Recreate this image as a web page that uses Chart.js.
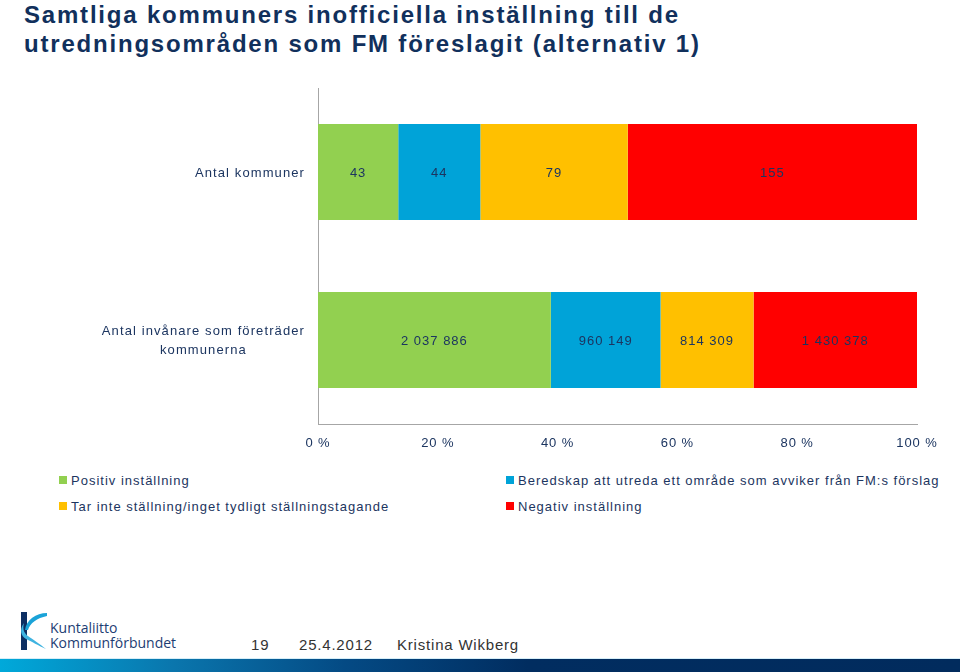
<!DOCTYPE html>
<html>
<head>
<meta charset="utf-8">
<script src="https://cdn.jsdelivr.net/npm/chart.js@4/dist/chart.umd.min.js"></script>
<style>
  html, body { margin: 0; padding: 0; background: #ffffff; }
  body { width: 960px; height: 672px; position: relative; overflow: hidden; font-family: "Liberation Sans", Arial, sans-serif; }
  #title { position: absolute; left: 24px; top: 0px; margin: 0; font-size: 24px; line-height: 29px; font-weight: bold; color: #11305c; letter-spacing: 1.8px; }
  #chartBox { position: absolute; left: 0; top: 80px; width: 960px; height: 380px; }
  .leg { position: absolute; font-size: 13px; color: #1c3560; letter-spacing: 1.0px; white-space: nowrap; height: 16px; line-height: 16px; }
  .leg span.sw { display: inline-block; width: 8px; height: 8px; margin-right: 4px; vertical-align: 1px; }
  .foot { position: absolute; top: 636px; font-size: 15px; color: #333; letter-spacing: 0.8px; white-space: nowrap; }
  #bar { position: absolute; left: 0; top: 658px; width: 960px; height: 14px; border-top: 1px solid #d6eef8;
         background: linear-gradient(to right, #00a9da 0%, #0a76ad 18%, #044a84 36%, #012d60 55%, #012b5d 100%); }
  #logoText { position: absolute; left: 50px; top: 620px; font-size: 14px; line-height: 15px; color: #1d3d73; letter-spacing: 0px; font-family: "Open Sans", "Liberation Sans", sans-serif; }
</style>
</head>
<body>
<div id="title">Samtliga kommuners inofficiella inställning till de<br>utredningsområden som FM föreslagit (alternativ 1)</div>
<div id="chartBox"><canvas id="c"></canvas></div>
<div id="legend"></div>
<svg style="position:absolute;left:14px;top:608px" width="36" height="46" viewBox="0 0 36 46">
  <rect x="7" y="4" width="6" height="38" fill="#0d2f63"/>
  <path d="M33 5 C22 5 12 12 11 22 L14 22 C16 15 23 10 33 8 Z" fill="#1aa3d8"/>
  <path d="M10 15 C8 22 11 26 14 28 C18 31 26 36 32 41 C25 38 17 33 12 31 C7 28 5 22 10 15 Z" fill="#3fb3e0"/>
</svg>
<div id="logoText">Kuntaliitto<br>Kommunförbundet</div>
<div class="foot" style="left:251px">19</div>
<div class="foot" style="left:299px">25.4.2012</div>
<div class="foot" style="left:397px">Kristina Wikberg</div>
<div id="bar"></div>
<script>
// ---- data ----
const categories = ['Antal kommuner', ['Antal invånare som företräder', 'kommunerna']];
const seriesNames = [
  'Positiv inställning',
  'Beredskap att utreda ett område som avviker från FM:s förslag',
  'Tar inte ställning/inget tydligt ställningstagande',
  'Negativ inställning'
];
const positiv = [43, 2037886];
const beredskap = [44, 960149];
const tarInte = [79, 814309];
const negativ = [155, 1430378];
const xTickValues = [0, 20, 40, 60, 80, 100];

const seriesValues = [positiv, beredskap, tarInte, negativ];
const colors = ['#92d050', '#00a3d8', '#ffc000', '#ff0000'];
const textColor = '#1c3560';

const totals = categories.map((_, i) => seriesValues.reduce((s, arr) => s + arr[i], 0));
const fmt = v => String(v).replace(/\B(?=(\d{3})+(?!\d))/g, ' ');

const datasets = seriesValues.map((arr, k) => ({
  label: seriesNames[k],
  raw: arr,
  data: arr.map((v, i) => v / totals[i] * 100),
  backgroundColor: colors[k],
  borderWidth: 0,
  categoryPercentage: 1.0,
  barPercentage: 0.571
}));

// legend (HTML, two columns)
const legPos = [[59, 473], [506, 473], [59, 499], [506, 499]];
const legEl = document.getElementById('legend');
seriesNames.forEach((name, k) => {
  const d = document.createElement('div');
  d.className = 'leg';
  d.style.left = legPos[k][0] + 'px';
  d.style.top = legPos[k][1] + 'px';
  d.innerHTML = '<span class="sw" style="background:' + colors[k] + '"></span>' + name;
  legEl.appendChild(d);
});

const spacingPlugin = {
  id: 'spacing',
  beforeDraw(chart) { chart.ctx.letterSpacing = '0.9px'; }
};

const labelPlugin = {
  id: 'labels',
  afterDraw(chart) {
    const ctx = chart.ctx;
    ctx.save();
    ctx.letterSpacing = '1px';
    ctx.font = '13px "Liberation Sans", Arial, sans-serif';
    ctx.fillStyle = textColor;
    ctx.textBaseline = 'middle';
    ctx.textAlign = 'center';
    chart.data.datasets.forEach((ds, k) => {
      const meta = chart.getDatasetMeta(k);
      meta.data.forEach((el, i) => {
        const cx = (el.x + el.base) / 2;
        ctx.fillText(fmt(ds.raw[i]), cx, el.y + 1);
      });
    });
    // category labels
    const ys = chart.scales.y;
    const right = chart.chartArea.left - 13;
    const lh = 19;
    ctx.letterSpacing = '1.1px';
    categories.forEach((lab, i) => {
      const lines = Array.isArray(lab) ? lab : [lab];
      const w = Math.max(...lines.map(l => ctx.measureText(l).width));
      const cx = right - w / 2;
      const cy = ys.getPixelForValue(i);
      lines.forEach((l, j) => {
        ctx.fillText(l, cx, cy + (j - (lines.length - 1) / 2) * lh + 1);
      });
    });
    ctx.restore();
  }
};

new Chart(document.getElementById('c'), {
  type: 'bar',
  data: { labels: categories, datasets },
  plugins: [spacingPlugin, labelPlugin],
  options: {
    indexAxis: 'y',
    responsive: true,
    maintainAspectRatio: false,
    devicePixelRatio: 1,
    animation: false,
    layout: { padding: { left: 0, right: 43, top: 8, bottom: 0 } },
    plugins: { legend: { display: false }, tooltip: { enabled: false } },
    scales: {
      x: {
        stacked: true,
        min: 0, max: 100,
        afterBuildTicks: s => { s.ticks = xTickValues.map(v => ({ value: v })); },
        afterFit: s => { s.height = 36; },
        grid: { display: false, drawTicks: false },
        border: { display: true, color: '#a6a6a6', width: 1 },
        ticks: { padding: 12, color: textColor, font: { size: 13, family: '"Liberation Sans", Arial, sans-serif' }, callback: v => v + ' %', maxRotation: 0 }
      },
      y: {
        stacked: true,
        afterFit: s => { s.width = 318; },
        grid: { display: false, drawTicks: false },
        border: { display: true, color: '#a6a6a6', width: 1 },
        ticks: { display: false }
      }
    }
  }
});
</script>
</body>
</html>
